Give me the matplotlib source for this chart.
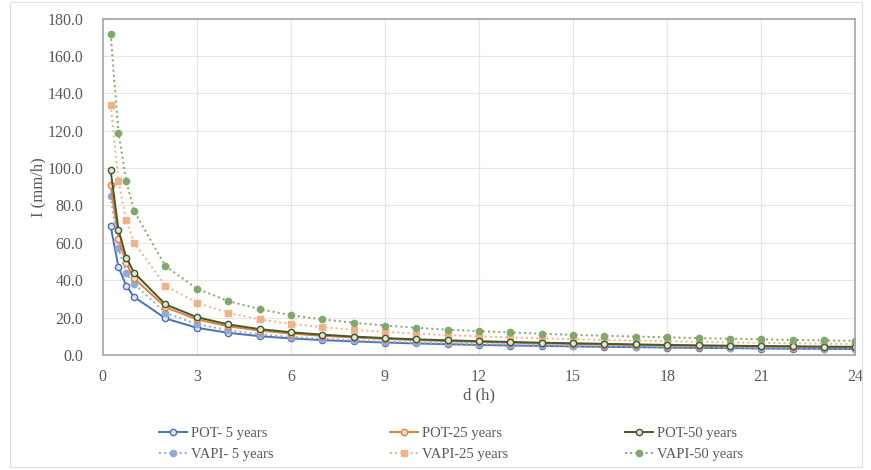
import matplotlib
matplotlib.use("Agg")
import matplotlib.pyplot as plt

durations = [0.25, 0.5, 0.75, 1, 2, 3, 4, 5, 6, 7, 8, 9, 10, 11, 12, 13, 14,
             15, 16, 17, 18, 19, 20, 21, 22, 23, 24]

pot_5 = [69, 47, 37, 31, 19.5, 14.5, 11.8, 10.0, 8.8, 7.9, 7.2, 6.6, 6.1, 5.7,
         5.3, 5.0, 4.8, 4.5, 4.3, 4.1, 3.9, 3.7, 3.6, 3.4, 3.3, 3.2, 3.1]
pot_25 = [91, 62, 49, 41, 25.5, 19.0, 15.3, 13.0, 11.4, 10.2, 9.3, 8.5, 7.9, 7.3,
          6.9, 6.5, 6.1, 5.8, 5.5, 5.3, 5.0, 4.8, 4.6, 4.5, 4.3, 4.1, 4.0]
pot_50 = [99, 67, 52, 44, 27.0, 20.2, 16.3, 13.8, 12.1, 10.8, 9.8, 9.0, 8.3, 7.8,
          7.3, 6.9, 6.5, 6.2, 5.9, 5.6, 5.3, 5.1, 4.9, 4.7, 4.6, 4.4, 4.3]
vapi_5 = [85, 57, 44, 38, 22.5, 16.5, 13.2, 11.0, 9.6, 8.6, 7.8, 7.1, 6.6, 6.1,
          5.7, 5.4, 5.1, 4.8, 4.6, 4.4, 4.2, 4.0, 3.8, 3.7, 3.5, 3.4, 3.3]
vapi_25 = [134, 93, 72, 60, 37, 28, 22.5, 19.0, 16.6, 14.8, 13.4, 12.3, 11.4, 10.6,
           9.9, 9.4, 8.9, 8.4, 8.0, 7.6, 7.3, 7.0, 6.7, 6.5, 6.2, 6.0, 5.8]
vapi_50 = [172, 119, 93, 77, 47.5, 35.5, 28.8, 24.5, 21.2, 19.0, 17.2, 15.7, 14.5,
           13.5, 12.7, 12.0, 11.3, 10.7, 10.2, 9.8, 9.4, 9.0, 8.6, 8.3, 8.0, 7.7, 7.5]

labels = ["POT- 5 years", "POT-25 years", "POT-50 years",
          "VAPI- 5 years", "VAPI-25 years", "VAPI-50 years"]

xticks = [0, 3, 6, 9, 12, 15, 18, 21, 24]
yticks = [0, 20, 40, 60, 80, 100, 120, 140, 160, 180]

plt.rcParams['font.family'] = ['Liberation Serif', 'DejaVu Serif']

fig = plt.figure(figsize=(8.71, 4.70), dpi=100)
ax = fig.add_axes([0.118, 0.245, 0.864, 0.715])

tc = '#595959'
series = [
    (pot_5, '#4472C4', '-', 'o', '#DCE6F5', labels[0]),
    (vapi_5, '#8FAADC', ':', 'o', None, labels[3]),
    (pot_25, '#ED7D31', '-', 'o', '#FBE3D3', labels[1]),
    (vapi_25, '#F4B183', ':', 's', None, labels[4]),
    (pot_50, '#3E5A2E', '-', 'o', '#DDE8D5', labels[2]),
    (vapi_50, '#7FA86A', ':', 'o', None, labels[5]),
]
lines = {}
for vals, col, ls, mk, mfc, lab in series:
    ln, = ax.plot(durations, vals, color=col, linestyle=ls, linewidth=1.4,
                  marker=mk, markersize=4.5,
                  markerfacecolor=(mfc if mfc else col), markeredgecolor=col,
                  markeredgewidth=1.0, label=lab)
    lines[lab] = ln

ax.set_xlim(0, 24)
ax.set_ylim(0, 180)
ax.set_xticks(xticks)
ax.set_yticks(yticks)
ax.set_yticklabels([f"{v:.1f}" for v in yticks])
ax.grid(True, color='#E6E6E6', linewidth=0.8)
ax.set_axisbelow(True)
for s in ax.spines.values():
    s.set_color('#A6A6A6')
    s.set_linewidth(1.2)
ax.tick_params(length=0, labelsize=11.5, colors=tc)
ax.tick_params(axis='y', pad=14)
ax.tick_params(axis='x', pad=10)
ax.set_xlabel('d (h)', fontsize=12, color=tc, labelpad=2)
ax.set_ylabel('I (mm/h)', fontsize=12, color=tc, labelpad=1)

# column-major ordering so rows read POT / VAPI
order = [labels[0], labels[3], labels[1], labels[4], labels[2], labels[5]]
handles = [lines[l] for l in order]
fig.legend(handles, order, loc='center', bbox_to_anchor=(0.518, 0.056), ncol=3,
           frameon=False, fontsize=10.5, labelcolor=tc, columnspacing=8.0,
           handlelength=1.9, handletextpad=0.3, labelspacing=0.55)

fig.patches.append(plt.Rectangle((0.012, 0.006), 0.978, 0.99, transform=fig.transFigure,
                                 fill=False, edgecolor='#E0E0E0', linewidth=0.8))

fig.savefig('out.png', dpi=100)
